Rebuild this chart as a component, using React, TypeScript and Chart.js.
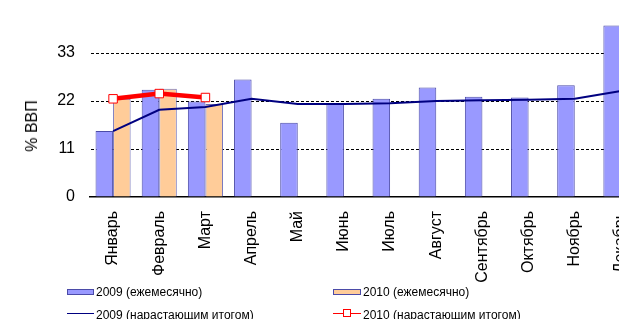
import React, { useEffect, useRef } from "react";
import { Chart, registerables } from "chart.js";

Chart.register(...registerables);

const categories = ["Январь", "Февраль", "Март", "Апрель", "Май", "Июнь", "Июль", "Август", "Сентябрь", "Октябрь", "Ноябрь", "Декабрь"];
const monthly2009 = [15.1, 24.6, 21.9, 26.9, 17.0, 21.5, 22.5, 25.1, 23.0, 22.8, 25.6, 39.3];
const monthly2010 = [22.5, 24.8, 21.3];
const cumulative2009 = [15.1, 20.0, 20.6, 22.5, 21.3, 21.3, 21.5, 22.0, 22.2, 22.3, 22.5, 24.3];
const cumulative2010 = [22.5, 23.7, 22.8];
const yTicks = [0, 11, 22, 33, 44];
const legendLabels = ["2009 (ежемесячно)", "2010 (ежемесячно)", "2009 (нарастающим итогом)", "2010 (нарастающим итогом)"];
const yTitle = "% ВВП";

const FONT = "'Liberation Sans', Arial, sans-serif";

export default function App() {
  const ref = useRef<HTMLCanvasElement>(null);
  useEffect(() => {
    if (!ref.current) return;
    const chart = new Chart(ref.current, {
      type: "bar",
      data: {
        labels: categories,
        datasets: [
          {
            type: "line",
            label: legendLabels[3],
            data: cumulative2010,
            borderColor: "#FF0000",
            borderWidth: 4.5,
            pointStyle: "rect",
            pointRadius: 6,
            pointBackgroundColor: "#FFFFFF",
            pointBorderColor: "#FF0000",
            pointBorderWidth: 1,
            tension: 0,
            order: 0,
          } as any,
          {
            type: "line",
            label: legendLabels[2],
            data: cumulative2009,
            borderColor: "#000080",
            borderWidth: 2,
            pointRadius: 0,
            tension: 0,
            order: 1,
          } as any,
          {
            type: "bar",
            label: legendLabels[0],
            data: monthly2009,
            backgroundColor: "#9999FF",
            borderColor: "#4B4BA8",
            borderWidth: 1,
            categoryPercentage: 0.76,
            barPercentage: 1,
            order: 2,
          },
          {
            type: "bar",
            label: legendLabels[1],
            data: monthly2010,
            backgroundColor: "#FFCC99",
            borderColor: "#6E6EB8",
            borderWidth: 1,
            categoryPercentage: 0.76,
            barPercentage: 1,
            order: 3,
          },
        ],
      },
      options: {
        animation: false,
        responsive: false,
        devicePixelRatio: 1,
        layout: { autoPadding: false, padding: { top: 5, right: 6, bottom: 22, left: 0 } },
        plugins: { legend: { display: false }, tooltip: { enabled: false } },
        scales: {
          x: {
            grid: { display: false, drawTicks: false },
            border: { display: true, color: "#000000", width: 1.5 },
            ticks: {
              autoSkip: false,
              minRotation: 90,
              maxRotation: 90,
              padding: 14,
              color: "#000000",
              font: { family: FONT, size: 16 },
            },
            afterFit: (s: any) => {
              s.height = 100;
              s.paddingLeft = 0;
              s.paddingRight = 0;
              s.paddingTop = 0;
              s.paddingBottom = 0;
            },
          },
          y: {
            min: yTicks[0],
            max: yTicks[yTicks.length - 1],
            afterBuildTicks: (s: any) => {
              s.ticks = yTicks.map((v) => ({ value: v }));
            },
            border: { display: true, color: "rgba(0,0,0,0)", dash: [3, 2] },
            grid: {
              drawTicks: false,
              color: (c: any) => (c.tick && (c.tick.value === 0 || c.tick.value === 44) ? "rgba(0,0,0,0)" : "#000000"),
              lineWidth: 1,
            },
            ticks: {
              padding: 15,
              color: "#000000",
              font: { family: FONT, size: 16 },
              callback: (v: any) => (v === 44 ? "" : String(v)),
            },
            afterFit: (s: any) => {
              s.width = 90;
              s.paddingTop = 0;
              s.paddingBottom = 0;
              s.paddingLeft = 0;
              s.paddingRight = 0;
            },
          },
        },
      },
    });
    return () => chart.destroy();
  }, []);

  const text: React.CSSProperties = {
    position: "absolute",
    fontFamily: FONT,
    fontSize: 12,
    color: "#000",
    whiteSpace: "nowrap",
    lineHeight: "14px",
  };

  return (
    <div style={{ position: "fixed", left: 0, top: 0, width: 619, height: 319, overflow: "hidden", background: "#fff" }}>
      <canvas ref={ref} width={650} height={319} style={{ position: "absolute", left: 0, top: 0 }} />
      <div
        style={{
          position: "absolute",
          left: 32,
          top: 126,
          transform: "translate(-50%, -50%) rotate(-90deg)",
          fontFamily: FONT,
          fontSize: 16,
          whiteSpace: "nowrap",
          color: "#000",
        }}
      >
        {yTitle}
      </div>
      {/* legend row 1 */}
      <div style={{ position: "absolute", left: 67, top: 289, width: 25, height: 4, background: "#9999FF", border: "1px solid #4B4BA8" }} />
      <div style={{ ...text, left: 96, top: 285 }}>{legendLabels[0]}</div>
      <div style={{ position: "absolute", left: 333, top: 289, width: 26, height: 4, background: "#FFCC99", border: "1px solid #4B4BA8" }} />
      <div style={{ ...text, left: 363, top: 285 }}>{legendLabels[1]}</div>
      {/* legend row 2 */}
      <div style={{ position: "absolute", left: 67, top: 313, width: 27, height: 1, background: "#000080" }} />
      <div style={{ ...text, left: 96, top: 308 }}>{legendLabels[2]}</div>
      <div style={{ position: "absolute", left: 333, top: 313, width: 28, height: 1, background: "#FF0000" }} />
      <div style={{ position: "absolute", left: 343, top: 309, width: 6, height: 6, background: "#fff", border: "1px solid #FF0000" }} />
      <div style={{ ...text, left: 363, top: 308 }}>{legendLabels[3]}</div>
    </div>
  );
}
